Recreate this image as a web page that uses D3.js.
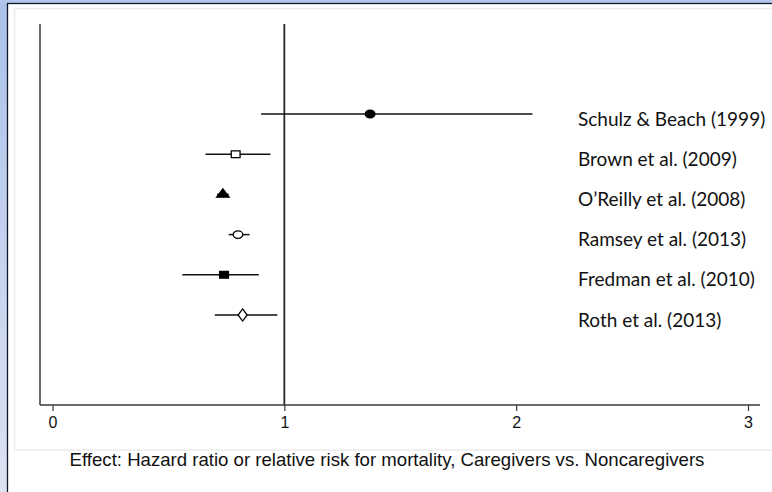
<!DOCTYPE html>
<html>
<head>
<meta charset="utf-8">
<script src="https://cdn.jsdelivr.net/npm/d3@7"></script>
<style>
  html, body { margin: 0; padding: 0; background: #fff; overflow: hidden; }
  svg { display: block; }
</style>
</head>
<body>
<svg id="chart" width="772" height="492"></svg>
<script>
// Studies, point estimates and 95% confidence limits
const studies = ["Schulz & Beach (1999)", "Brown et al. (2009)", "O\u2019Reilly et al. (2008)",
                 "Ramsey et al. (2013)", "Fredman et al. (2010)", "Roth et al. (2013)"];
const estimates = [1.37, 0.79, 0.735, 0.80, 0.74, 0.82];
const lower = [0.90, 0.66, 0.71, 0.76, 0.56, 0.70];
const upper = [2.07, 0.94, 0.76, 0.85, 0.89, 0.97];
const markers = ["circleFilled", "squareOpen", "triangleFilled", "circleOpen", "squareFilled", "diamondOpen"];
const xTicks = [0, 1, 2, 3];
const xTitle = "Effect: Hazard ratio or relative risk for mortality, Caregivers vs. Noncaregivers";

const svg = d3.select("#chart");
const W = 772, H = 492;

// Window frame: blue gradient edges and dark border
const defs = svg.append("defs");
const grad = defs.append("linearGradient").attr("id", "edge").attr("x1", 0).attr("y1", 0).attr("x2", 0).attr("y2", 1);
grad.append("stop").attr("offset", "0%").attr("stop-color", "#abc1ea");
grad.append("stop").attr("offset", "100%").attr("stop-color", "#dce3f2");
svg.append("rect").attr("x", 0).attr("y", 0).attr("width", W).attr("height", H).attr("fill", "url(#edge)");
svg.append("rect").attr("x", 0).attr("y", 0).attr("width", W).attr("height", 3).attr("fill", "#b2c6ec");
svg.append("rect").attr("x", 7.5).attr("y", 3.5).attr("width", W).attr("height", H)
  .attr("fill", "#fff").attr("stroke", "#10162a").attr("stroke-width", 1.3);
// Inner plot panel
svg.append("rect").attr("x", 14.5).attr("y", 8.5).attr("width", W).attr("height", 441.5)
  .attr("fill", "#fff").attr("stroke", "#ececec").attr("stroke-width", 1.5);

const x = d3.scaleLinear().domain([0, 3]).range([52.5, 748]);
const y = d3.scalePoint().domain(studies).range([114, 315]);
const plotTop = 24, plotBottom = 405, plotLeft = 40, plotRight = 760;

// Axes
svg.append("line").attr("x1", plotLeft).attr("x2", plotLeft).attr("y1", plotTop).attr("y2", plotBottom)
  .attr("stroke", "#3a3a3a").attr("stroke-width", 1.5);
const xAxis = d3.axisBottom(x).tickValues(xTicks).tickFormat(d3.format("d")).tickSize(6).tickPadding(6);
const gx = svg.append("g").attr("transform", `translate(0,${plotBottom})`).call(xAxis);
gx.select(".domain").remove();
gx.selectAll(".tick line").attr("stroke", "#3a3a3a").attr("stroke-width", 1.2);
gx.selectAll(".tick text")
  .style("font-family", "'Liberation Sans', Arial, sans-serif")
  .style("font-size", "16px").attr("fill", "#111");
svg.append("line").attr("x1", plotLeft).attr("x2", plotRight).attr("y1", plotBottom).attr("y2", plotBottom)
  .attr("stroke", "#3a3a3a").attr("stroke-width", 1.3);

// Line of no effect
svg.append("line").attr("x1", x(1)).attr("x2", x(1)).attr("y1", plotTop).attr("y2", plotBottom)
  .attr("stroke", "#2a2a2a").attr("stroke-width", 1.8);

// Confidence intervals
const rows = studies.map((s, i) => ({ s, est: estimates[i], lo: lower[i], hi: upper[i], m: markers[i] }));
svg.append("g").selectAll("line").data(rows).join("line")
  .attr("x1", d => x(d.lo)).attr("x2", d => x(d.hi))
  .attr("y1", d => y(d.s)).attr("y2", d => y(d.s))
  .attr("stroke", "#111").attr("stroke-width", 1.5);

// Point markers
const symType = { circle: d3.symbolCircle, square: d3.symbolSquare, triangle: d3.symbolTriangle, diamond: d3.symbolDiamond };
const symSize = { circle: 44, square: 46, triangle: 40, diamond: 42 };
svg.append("g").selectAll("path").data(rows).join("path")
  .attr("d", d => {
    const k = d.m.replace(/Filled|Open/, "");
    return d3.symbol().type(symType[k]).size(symSize[k])();
  })
  .attr("transform", d => `translate(${x(d.est)},${y(d.s)}) scale(1.3,1)`)
  .attr("fill", d => d.m.endsWith("Filled") ? "#000" : "#fff")
  .attr("stroke", "#000")
  .attr("stroke-width", 1.3)
  .attr("vector-effect", "non-scaling-stroke");

// Study labels
svg.append("g").selectAll("text").data(rows).join("text")
  .attr("x", 578).attr("y", d => y(d.s) + 4)
  .attr("dominant-baseline", "central")
  .attr("font-family", "Lato, 'Open Sans', sans-serif")
  .attr("font-size", 19).attr("fill", "#111")
  .text(d => d.s);

// X-axis title
svg.append("text").attr("x", 387).attr("y", 466).attr("text-anchor", "middle")
  .attr("font-family", "'Liberation Sans', Arial, sans-serif").attr("font-size", 18.6).attr("fill", "#111")
  .text(xTitle);
</script>
</body>
</html>
